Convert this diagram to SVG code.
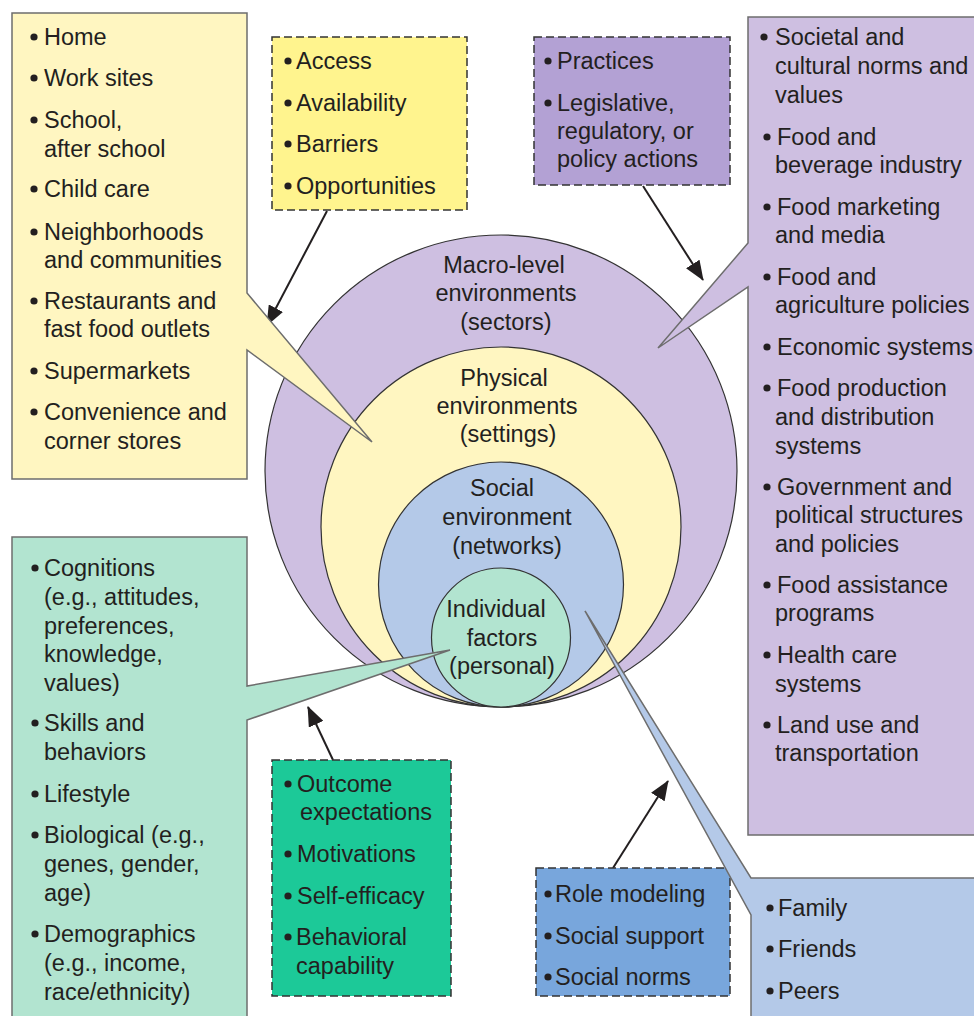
<svg xmlns="http://www.w3.org/2000/svg" width="974" height="1016" viewBox="0 0 974 1016">
<defs>
<style>
text{font-family:"Liberation Sans",Arial,sans-serif;font-size:23.5px;fill:#231f20}
.c{text-anchor:middle}
.box{stroke:#6d6d6d;stroke-width:1.5}
.dash{stroke:#333;stroke-width:1.5;stroke-dasharray:8 4}
.ring{stroke:#333;stroke-width:1.2}
.b{fill:#231f20}
.arr{stroke:#231f20;stroke-width:2;fill:none;marker-end:url(#ah)}
</style>
<marker id="ah" viewBox="0 0 20 16" markerWidth="20" markerHeight="16" refX="19" refY="8" orient="auto" markerUnits="userSpaceOnUse">
<path d="M0,0 L20,8 L0,16 z" fill="#231f20"/>
</marker>
</defs>
<rect width="974" height="1016" fill="#ffffff"/>

<g id="circles">
<circle class="ring" cx="501" cy="471" r="236" fill="#cebfe1"/>
<circle class="ring" cx="501" cy="527" r="180" fill="#fff6c1"/>
<circle class="ring" cx="501" cy="584.5" r="122.5" fill="#b4c9e8"/>
<circle class="ring" cx="501" cy="637.5" r="69.5" fill="#b2e4d0"/>
<text class="c" x="504" y="273">Macro-level</text>
<text class="c" x="506" y="301">environments</text>
<text class="c" x="506" y="330">(sectors)</text>
<text class="c" x="504" y="386">Physical</text>
<text class="c" x="507" y="414">environments</text>
<text class="c" x="508" y="442">(settings)</text>
<text class="c" x="502" y="496">Social</text>
<text class="c" x="507" y="525">environment</text>
<text class="c" x="507" y="554">(networks)</text>
<text class="c" x="496" y="617">Individual</text>
<text class="c" x="502" y="646">factors</text>
<text class="c" x="502" y="674">(personal)</text>
</g>

<g id="connectors">
<line class="arr" x1="327" y1="211" x2="267" y2="325"/>
<line class="arr" x1="643" y1="186" x2="703" y2="280"/>
<line class="arr" x1="333" y1="760" x2="308" y2="707"/>
<line class="arr" x1="613" y1="868" x2="668" y2="781"/>
</g>

<g id="settings-box">
<path class="box" d="M12,13 H247 V293 L372,442 L247,350 V479 H12 Z" fill="#fff6c1"/>
<circle class="b" cx="34" cy="37" r="3.6"/><text x="44" y="45">Home</text>
<circle class="b" cx="34" cy="78" r="3.6"/><text x="44" y="86">Work sites</text>
<circle class="b" cx="34" cy="120" r="3.6"/><text x="44" y="128">School,</text>
<text x="44" y="157">after school</text>
<circle class="b" cx="34" cy="189" r="3.6"/><text x="44" y="197">Child care</text>
<circle class="b" cx="34" cy="232" r="3.6"/><text x="44" y="240">Neighborhoods</text>
<text x="44" y="268">and communities</text>
<circle class="b" cx="34" cy="301" r="3.6"/><text x="44" y="309">Restaurants and</text>
<text x="44" y="337">fast food outlets</text>
<circle class="b" cx="34" cy="371" r="3.6"/><text x="44" y="379">Supermarkets</text>
<circle class="b" cx="34" cy="412" r="3.6"/><text x="44" y="420">Convenience and</text>
<text x="44" y="449">corner stores</text>
</g>

<g id="access-box">
<rect class="dash" x="272" y="37" width="195" height="173" fill="#fff48e"/>
<circle class="b" cx="288" cy="61" r="3.6"/><text x="296" y="69">Access</text>
<circle class="b" cx="288" cy="103" r="3.6"/><text x="296" y="111">Availability</text>
<circle class="b" cx="288" cy="144" r="3.6"/><text x="296" y="152">Barriers</text>
<circle class="b" cx="288" cy="186" r="3.6"/><text x="296" y="194">Opportunities</text>
</g>

<g id="practices-box">
<rect class="dash" x="534" y="37" width="196" height="148" fill="#b3a1d4"/>
<circle class="b" cx="548" cy="61" r="3.6"/><text x="557" y="69">Practices</text>
<circle class="b" cx="548" cy="103" r="3.6"/><text x="557" y="111">Legislative,</text>
<text x="557" y="139">regulatory, or</text>
<text x="557" y="167">policy actions</text>
</g>

<g id="sectors-box">
<path class="box" d="M748,17 H980 V835 H748 V287 L658,348 L748,243 Z" fill="#cebfe1"/>
<circle class="b" cx="764" cy="37" r="3.6"/><text x="775" y="45">Societal and</text>
<text x="775" y="74">cultural norms and</text>
<text x="775" y="103">values</text>
<circle class="b" cx="767" cy="137" r="3.6"/><text x="777" y="145">Food and</text>
<text x="775" y="173">beverage industry</text>
<circle class="b" cx="767" cy="207" r="3.6"/><text x="777" y="215">Food marketing</text>
<text x="775" y="243">and media</text>
<circle class="b" cx="767" cy="277" r="3.6"/><text x="777" y="285">Food and</text>
<text x="775" y="313">agriculture policies</text>
<circle class="b" cx="767" cy="347" r="3.6"/><text x="777" y="355">Economic systems</text>
<circle class="b" cx="767" cy="388" r="3.6"/><text x="777" y="396">Food production</text>
<text x="775" y="425">and distribution</text>
<text x="775" y="454">systems</text>
<circle class="b" cx="767" cy="487" r="3.6"/><text x="777" y="495">Government and</text>
<text x="775" y="523">political structures</text>
<text x="775" y="552">and policies</text>
<circle class="b" cx="767" cy="585" r="3.6"/><text x="777" y="593">Food assistance</text>
<text x="775" y="621">programs</text>
<circle class="b" cx="767" cy="655" r="3.6"/><text x="777" y="663">Health care</text>
<text x="775" y="692">systems</text>
<circle class="b" cx="767" cy="725" r="3.6"/><text x="777" y="733">Land use and</text>
<text x="775" y="761">transportation</text>
</g>

<g id="personal-box">
<path class="box" d="M12,537 H247 V686 L450,650 L247,720 V1022 H12 Z" fill="#b2e4d0"/>
<circle class="b" cx="35" cy="568" r="3.6"/><text x="44" y="576">Cognitions</text>
<text x="44" y="605">(e.g., attitudes,</text>
<text x="44" y="634">preferences,</text>
<text x="44" y="662">knowledge,</text>
<text x="44" y="691">values)</text>
<circle class="b" cx="35" cy="723" r="3.6"/><text x="44" y="731">Skills and</text>
<text x="44" y="760">behaviors</text>
<circle class="b" cx="35" cy="794" r="3.6"/><text x="44" y="802">Lifestyle</text>
<circle class="b" cx="35" cy="835" r="3.6"/><text x="44" y="843">Biological (e.g.,</text>
<text x="44" y="872">genes, gender,</text>
<text x="44" y="901">age)</text>
<circle class="b" cx="35" cy="934" r="3.6"/><text x="44" y="942">Demographics</text>
<text x="44" y="971">(e.g., income,</text>
<text x="44" y="1000">race/ethnicity)</text>
</g>

<g id="outcome-box">
<rect class="dash" x="272" y="760" width="179" height="236" fill="#1cc998"/>
<circle class="b" cx="288" cy="784" r="3.6"/><text x="297" y="792">Outcome</text>
<text x="300" y="820">expectations</text>
<circle class="b" cx="288" cy="854" r="3.6"/><text x="297" y="862">Motivations</text>
<circle class="b" cx="288" cy="896" r="3.6"/><text x="297" y="904">Self-efficacy</text>
<circle class="b" cx="288" cy="937" r="3.6"/><text x="296" y="945">Behavioral</text>
<text x="296" y="974">capability</text>
</g>

<g id="role-box">
<rect class="dash" x="536" y="868" width="194" height="128" fill="#78a6dc"/>
<circle class="b" cx="548" cy="894" r="3.6"/><text x="555" y="902">Role modeling</text>
<circle class="b" cx="548" cy="936" r="3.6"/><text x="555" y="944">Social support</text>
<circle class="b" cx="548" cy="977" r="3.6"/><text x="555" y="985">Social norms</text>
</g>

<g id="networks-box">
<path class="box" d="M980,878 H751 L585,611 L751,915 V1022 H980 Z" fill="#b4c9e8"/>
<circle class="b" cx="770" cy="908" r="3.6"/><text x="778" y="916">Family</text>
<circle class="b" cx="770" cy="949" r="3.6"/><text x="778" y="957">Friends</text>
<circle class="b" cx="770" cy="991" r="3.6"/><text x="778" y="999">Peers</text>
</g>
</svg>
